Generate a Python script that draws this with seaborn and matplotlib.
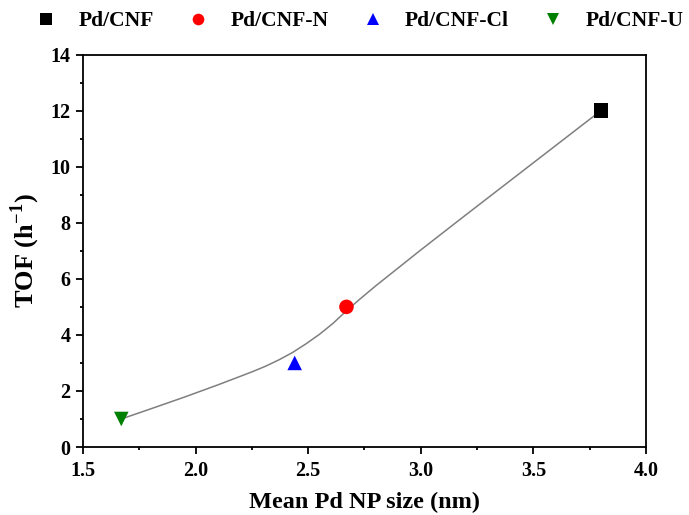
import numpy as np
import matplotlib
matplotlib.use("Agg")
import matplotlib.pyplot as plt
from matplotlib.ticker import MultipleLocator, FormatStrFormatter
import seaborn as sns
import pandas as pd

# catalysts and their measured values
samples = ["Pd/CNF", "Pd/CNF-N", "Pd/CNF-Cl", "Pd/CNF-U"]
size_nm = [3.80, 2.67, 2.44, 1.67]
tof = [12.0, 5.0, 3.0, 1.0]

# smooth guide curve
curve_x = [1.67, 1.80, 1.95, 2.10, 2.25, 2.31, 2.37, 2.43, 2.49, 2.55,
           2.61, 2.67, 2.73, 2.80, 2.90, 3.00, 3.20, 3.40, 3.60, 3.80]
curve_y = [1.00, 1.36, 1.78, 2.22, 2.68, 2.88, 3.11, 3.37, 3.68, 4.02,
           4.41, 4.86, 5.28, 5.75, 6.39, 7.03, 8.28, 9.52, 10.76, 12.00]

df = pd.DataFrame({"sample": samples, "size": size_nm, "tof": tof})
curve = pd.DataFrame({"x": curve_x, "y": curve_y})

sns.set_style("ticks", {"axes.edgecolor": "black", "text.color": "black",
                        "axes.labelcolor": "black", "xtick.color": "black",
                        "ytick.color": "black"})
plt.rcParams["font.family"] = ["Liberation Serif", "DejaVu Serif"]
plt.rcParams["font.weight"] = "bold"
plt.rcParams["axes.labelweight"] = "bold"
plt.rcParams["mathtext.fontset"] = "custom"
plt.rcParams["mathtext.rm"] = "Liberation Serif:bold"
plt.rcParams["mathtext.bf"] = "Liberation Serif:bold"

fig = plt.figure(figsize=(6.89, 5.15), dpi=100)
ax = fig.add_axes([0.1205, 0.132, 0.817, 0.762])

sns.lineplot(data=curve, x="x", y="y", color="#7f7f7f", linewidth=1.1,
             sort=False, ax=ax, legend=False)
sns.scatterplot(data=df, x="size", y="tof", hue="sample", style="sample",
                palette={"Pd/CNF": "black", "Pd/CNF-N": "red",
                         "Pd/CNF-Cl": "blue", "Pd/CNF-U": "green"},
                markers={"Pd/CNF": "s", "Pd/CNF-N": "o",
                         "Pd/CNF-Cl": "^", "Pd/CNF-U": "v"},
                s=110, linewidth=0, ax=ax, zorder=3)

ax.set_xlim(1.5, 4.0)
ax.set_ylim(0, 14)
ax.xaxis.set_major_locator(MultipleLocator(0.5))
ax.xaxis.set_minor_locator(MultipleLocator(0.25))
ax.yaxis.set_major_locator(MultipleLocator(2))
ax.yaxis.set_minor_locator(MultipleLocator(1))
ax.xaxis.set_major_formatter(FormatStrFormatter("%.1f"))
ax.tick_params(which="major", direction="out", length=5, width=1.3,
               labelsize=14.5, top=False, right=False, colors="black")
ax.tick_params(axis="y", which="major", pad=4)
ax.tick_params(axis="x", which="major", pad=5)
ax.tick_params(which="minor", direction="out", length=2.5, width=1.3,
               top=False, right=False, colors="black")
for sp in ax.spines.values():
    sp.set_linewidth(1.3)
    sp.set_color("black")
    sp.set_visible(True)

ax.set_xlabel("Mean Pd NP size (nm)", fontsize=17.5, labelpad=8, color="black")
ax.set_ylabel("TOF (h$^{\\mathbf{\u22121}}$)", fontsize=19, labelpad=6,
              color="black")

handles, labels = ax.get_legend_handles_labels()
ax.legend_.remove()
leg = fig.legend(handles, labels, loc="upper left",
                 bbox_to_anchor=(0.036, 0.978), ncol=4, frameon=False,
                 fontsize=15.5, markerscale=0.8, borderpad=0, borderaxespad=0,
                 handlelength=2.0, columnspacing=1.05, handletextpad=0.5)
for t in leg.get_texts():
    t.set_color("black")

fig.savefig("out.png", dpi=100)
